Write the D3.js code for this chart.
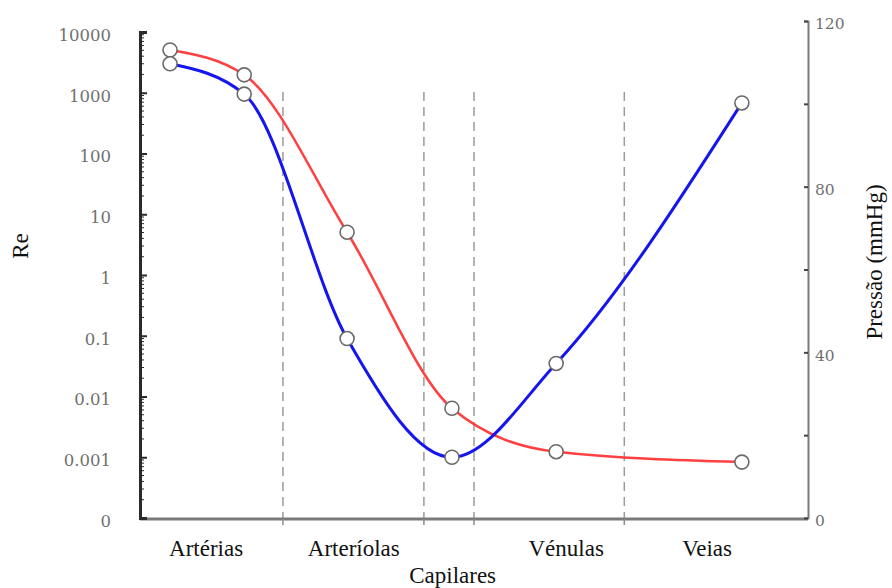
<!DOCTYPE html>
<html>
<head>
<meta charset="utf-8">
<script src="https://cdn.jsdelivr.net/npm/d3@7"></script>
<style>
  html, body { margin: 0; padding: 0; background: #fff; }
  svg { display: block; }
</style>
</head>
<body>
<svg id="chart" width="892" height="588"></svg>
<script>
// Vessel segments along the circulation (position units 0–100 along the x axis)
const stages = ["Artérias", "Arteríolas", "Capilares", "Vénulas", "Veias"];
const stagePos = [9.9, 32.0, 46.8, 63.8, 84.9];
const stageRow = [0, 0, 1, 0, 0];
const boundaries = [21.4, 42.5, 50.0, 72.5];

// Sampled points
const samplePos = [4.5, 15.6, 31.0, 46.7, 62.3, 90.1];
const reynolds = [3000, 950, 0.09, 0.001, 0.035, 680];
const pressure = [113, 107, 69, 26.5, 16, 13.5];

// Axis ticks
const reTicks = [1e-4, 1e-3, 1e-2, 1e-1, 1, 10, 100, 1000, 10000];
const reTickLabels = ["0", "0.001", "0.01", "0.1", "1", "10", "100", "1000", "10000"];
const pTicks = [0, 20, 40, 60, 80, 100, 120];
const pTickLabels = ["0", "", "40", "", "80", "", "120"];

const svg = d3.select("#chart");

const x = d3.scaleLinear().domain([0, 100]).range([140, 808]);
const yRe = d3.scaleLog().domain([1e-4, 1e4]).range([518, 32]);
const yP = d3.scaleLinear().domain([0, 120]).range([518, 21]);

const tickFont = "'DejaVu Serif', serif";
const titleFont = "'Liberation Serif', 'Times New Roman', serif";

// Segment boundaries
svg.append("g").selectAll("line")
  .data(boundaries)
  .join("line")
  .attr("x1", d => x(d)).attr("x2", d => x(d))
  .attr("y1", 92).attr("y2", 518)
  .attr("stroke", "#9a9a9a")
  .attr("stroke-width", 1.5)
  .attr("stroke-dasharray", "9,6");

// Bottom axis
svg.append("line")
  .attr("x1", x(0)).attr("x2", x(100))
  .attr("y1", 519).attr("y2", 519)
  .attr("stroke", "#7a7a7a").attr("stroke-width", 3);
svg.append("g").selectAll("line")
  .data(boundaries)
  .join("line")
  .attr("x1", d => x(d)).attr("x2", d => x(d))
  .attr("y1", 519).attr("y2", 525)
  .attr("stroke", "#8a8a8a").attr("stroke-width", 1.5);

// Left log axis with minor ticks on the inside
const leftAxis = d3.axisRight(yRe)
  .tickValues(reTicks)
  .tickSize(7)
  .tickFormat("");
const gL = svg.append("g").attr("transform", "translate(140,0)").call(leftAxis);
gL.select(".domain").attr("stroke", "#2a2a2a").attr("stroke-width", 3);
gL.selectAll(".tick line").attr("stroke", "#2a2a2a").attr("stroke-width", 2);

const minor = [];
for (let e = -4; e < 4; e++) {
  for (let m = 2; m <= 9; m++) minor.push(m * Math.pow(10, e));
}
svg.append("g").selectAll("line")
  .data(minor)
  .join("line")
  .attr("x1", 140).attr("x2", 144)
  .attr("y1", d => yRe(d)).attr("y2", d => yRe(d))
  .attr("stroke", "#2a2a2a").attr("stroke-width", 1);

svg.append("g").selectAll("text")
  .data(reTicks)
  .join("text")
  .attr("x", 111)
  .attr("y", d => yRe(d) + 3)
  .attr("dy", "0.35em")
  .attr("text-anchor", "end")
  .attr("font-family", tickFont)
  .attr("font-size", 16.5)
  .attr("fill", "#707070")
  .text((d, i) => reTickLabels[i]);

// Right pressure axis
const rightAxis = d3.axisLeft(yP)
  .tickValues(pTicks)
  .tickSize(4)
  .tickFormat("");
const gR = svg.append("g").attr("transform", "translate(808,0)").call(rightAxis);
gR.select(".domain").attr("stroke", "#7a7a7a").attr("stroke-width", 2);
gR.selectAll(".tick line").attr("stroke", "#444").attr("stroke-width", 2);

svg.append("g").selectAll("text")
  .data(pTicks)
  .join("text")
  .attr("x", 815)
  .attr("y", d => yP(d) + 3)
  .attr("dy", "0.35em")
  .attr("font-family", tickFont)
  .attr("font-size", 15.5)
  .attr("fill", "#707070")
  .text((d, i) => pTickLabels[i]);

// Curves
const reLine = d3.line()
  .x((d, i) => x(samplePos[i]))
  .y(d => yRe(d))
  .curve(d3.curveMonotoneX);
const pLine = d3.line()
  .x((d, i) => x(samplePos[i]))
  .y(d => yP(d))
  .curve(d3.curveMonotoneX);

svg.append("path")
  .attr("d", pLine(pressure))
  .attr("fill", "none")
  .attr("stroke", "#ff4040")
  .attr("stroke-width", 2.5);
svg.append("path")
  .attr("d", reLine(reynolds))
  .attr("fill", "none")
  .attr("stroke", "#1515f0")
  .attr("stroke-width", 3);

// Sample markers
const markerStyle = sel => sel
  .attr("r", 7)
  .attr("fill", "#fff")
  .attr("stroke", "#6a6a6a")
  .attr("stroke-width", 1.6);

svg.append("g").selectAll("circle")
  .data(pressure)
  .join("circle")
  .attr("cx", (d, i) => x(samplePos[i]))
  .attr("cy", d => yP(d))
  .call(markerStyle);
svg.append("g").selectAll("circle")
  .data(reynolds)
  .join("circle")
  .attr("cx", (d, i) => x(samplePos[i]))
  .attr("cy", d => yRe(d))
  .call(markerStyle);

// Segment labels
svg.append("g").selectAll("text")
  .data(stages)
  .join("text")
  .attr("x", (d, i) => x(stagePos[i]))
  .attr("y", (d, i) => stageRow[i] ? 583 : 556)
  .attr("text-anchor", "middle")
  .attr("font-family", titleFont)
  .attr("font-size", 23)
  .attr("fill", "#111")
  .text(d => d);

// Axis titles
svg.append("text")
  .attr("transform", "translate(28,246) rotate(-90)")
  .attr("text-anchor", "middle")
  .attr("font-family", titleFont)
  .attr("font-size", 23)
  .attr("fill", "#111")
  .text("Re");
svg.append("text")
  .attr("transform", "translate(882,262) rotate(-90)")
  .attr("text-anchor", "middle")
  .attr("font-family", titleFont)
  .attr("font-size", 23)
  .attr("fill", "#111")
  .text("Pressão (mmHg)");
</script>
</body>
</html>
